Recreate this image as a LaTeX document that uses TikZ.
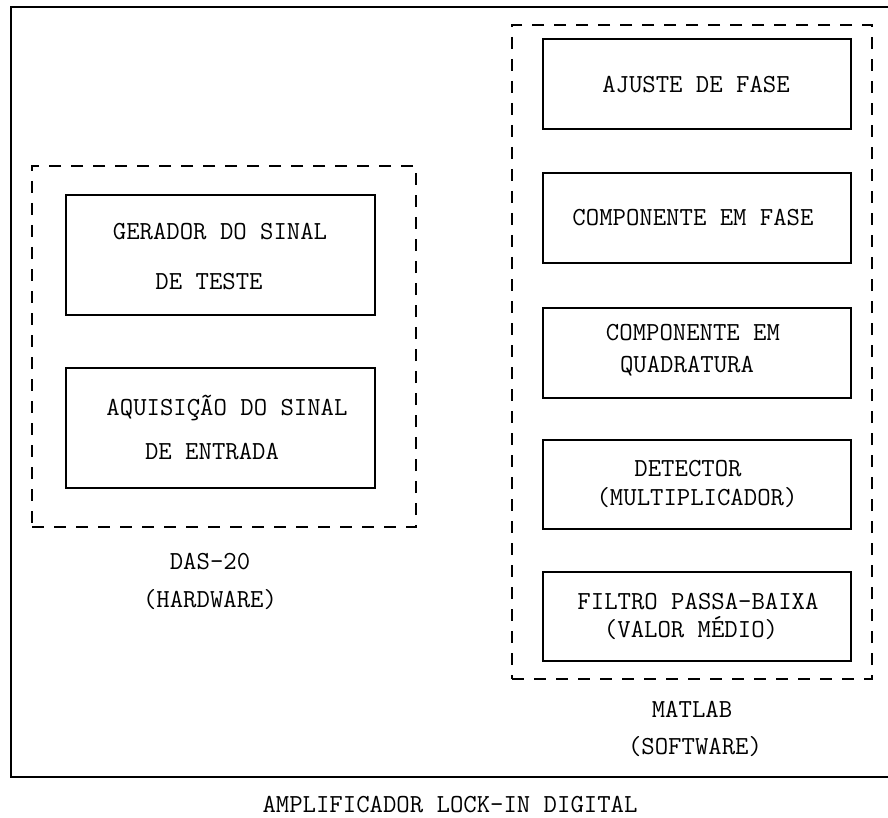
\documentclass[tikz,border=0pt]{standalone}
\usepackage{fontspec}
\newcommand{\monofnt}{\ttfamily\fontsize{26}{28}\selectfont\addfontfeature{LetterSpace=15}}
\begin{document}
\begin{tikzpicture}[x=1pt,y=-1pt,
  blk/.style={draw=black, line width=1.5pt, inner sep=0pt, anchor=center},
  grp/.style={draw=black, line width=1.5pt, dash pattern=on 12pt off 10pt, inner sep=0pt},
  txt/.style={font=\monofnt, inner sep=0pt, anchor=base},
  frame/.style={draw=black, line width=2pt}]
\useasboundingbox (0,0) rectangle (888,818);
% outer frame (open on the right, cut by the image edge)
\coordinate (ftr) at (890,7);
\coordinate (ftl) at (11,7);
\coordinate (fbl) at (11,777);
\coordinate (fbr) at (890,777);
\draw[frame] (ftr) -- (ftl) -- (fbl) -- (fbr);
% group boxes
\node[grp, minimum width=384pt, minimum height=361pt] (hw) at (224,346.5) {};
\node[grp, minimum width=360pt, minimum height=654pt] (sw) at (692,352) {};
% left blocks
\node[blk, minimum width=309pt, minimum height=120pt] (ger) at (220.5,255) {};
\node[blk, minimum width=309pt, minimum height=120pt] (aqu) at (220.5,428) {};
% right blocks
\node[blk, minimum width=308pt, minimum height=90pt] (aju) at (697,84) {};
\node[blk, minimum width=308pt, minimum height=90pt] (fas) at (697,218) {};
\node[blk, minimum width=308pt, minimum height=90pt] (qua) at (697,353) {};
\node[blk, minimum width=308pt, minimum height=89pt] (det) at (697,484.5) {};
\node[blk, minimum width=308pt, minimum height=89pt] (fil) at (697,616.5) {};
% texts (baseline = visual centre + 7.5)
\node[txt] (t1a) at (220,239.5) {GERADOR DO SINAL};
\node[txt] (t1b) at (209,289.5) {DE TESTE};
\node[txt] (t2a) at (227,415.5) {AQUISIÇÃO DO SINAL};
\node[txt] (t2b) at (212,459.5) {DE ENTRADA};
\node[txt] (l1a) at (210,569.5) {DAS-20};
\node[txt] (l1b) at (210,607.5) {(HARDWARE)};
\node[txt] (t3) at (696,92.5) {AJUSTE DE FASE};
\node[txt] (t4) at (693,225.5) {COMPONENTE EM FASE};
\node[txt] (t5a) at (693,340.5) {COMPONENTE EM};
\node[txt] (t5b) at (687,372.5) {QUADRATURA};
\node[txt] (t6a) at (688,476.5) {DETECTOR};
\node[txt] (t6b) at (697,505.5) {(MULTIPLICADOR)};
\node[txt] (t7a) at (698,609.5) {FILTRO PASSA-BAIXA};
\node[txt] (t7b) at (691,637.5) {(VALOR MÉDIO)};
\node[txt] (l2a) at (692,717.5) {MATLAB};
\node[txt] (l2b) at (695,754.5) {(SOFTWARE)};
\node[txt] (ttl) at (450,812.5) {AMPLIFICADOR LOCK-IN DIGITAL};
\end{tikzpicture}
\end{document}
